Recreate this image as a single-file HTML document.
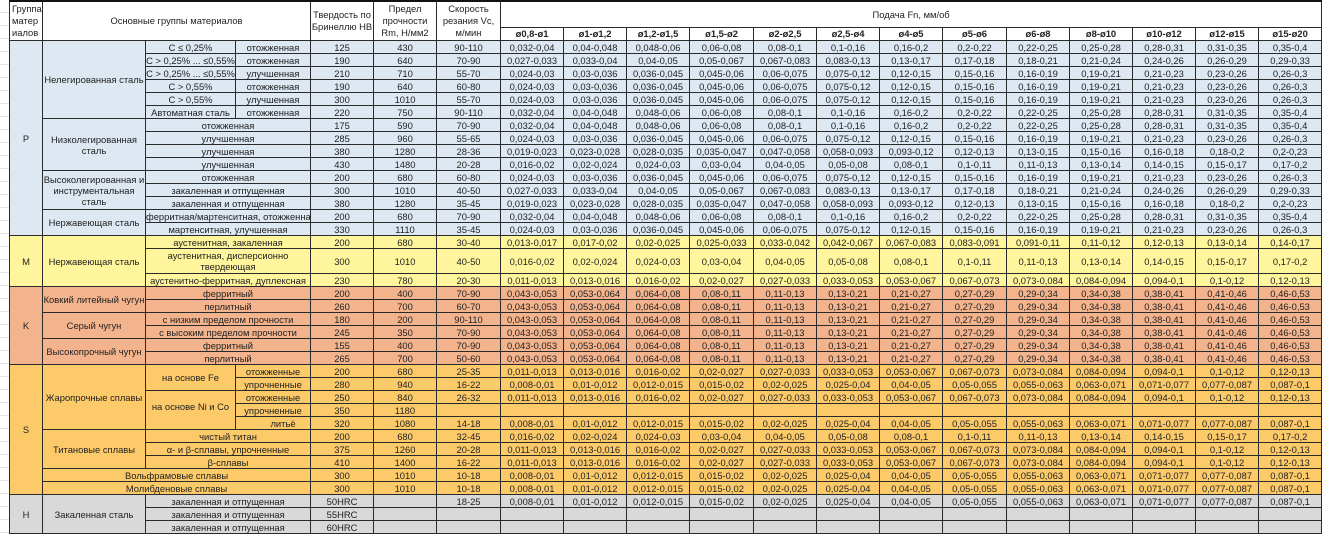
<!DOCTYPE html>
<html><head><meta charset="utf-8">
<style>
html,body{margin:0;padding:0;background:#fff;width:1334px;height:535px;overflow:hidden}
.g{position:absolute;left:0;top:0;width:9px;height:535px;background:repeating-linear-gradient(#fff 0 12px,#e4e4e4 12px 13px)}
table{position:absolute;left:9px;top:0;width:1312px;border-collapse:collapse;table-layout:fixed;font-family:"Liberation Sans",Arial,sans-serif;font-size:9.4px;color:#222}
td{border:1px solid #2a2a2a;padding:0;text-align:center;vertical-align:middle;line-height:11px;height:12px;overflow:hidden;white-space:nowrap}
tr.h td{background:#fff;line-height:12px}
tr.top td{border-top:2px solid #111}
.w{white-space:normal}
.p td{background:#dde8f3}
.m td{background:#fff59c}
.k td{background:#f3b38c}
.s td{background:#fdca6a}
.x td{background:#d9d9d9}
.b{font-weight:bold}
</style></head><body>
<div class="g"></div>
<table>
<colgroup><col style="width:33px"><col style="width:103px"><col style="width:90px"><col style="width:75px"><col style="width:63px"><col style="width:63px"><col style="width:64px"><col style="width:63px"><col style="width:63px"><col style="width:63px"><col style="width:64px"><col style="width:63px"><col style="width:63px"><col style="width:63px"><col style="width:64px"><col style="width:63px"><col style="width:63px"><col style="width:63px"><col style="width:63px"><col style="width:63px"></colgroup>
<tr class="h top"><td rowspan="2" class="w" style="text-align:left;padding-left:2px">Группа матер иалов</td><td colspan="3" rowspan="2">Основные группы материалов</td><td rowspan="2" class="w">Твердость по Бринеллю HB</td><td rowspan="2" class="w">Предел прочности Rm, Н/мм2</td><td rowspan="2" class="w">Скорость резания Vc, м/мин</td><td colspan="13" style="height:25px">Подача Fn, мм/об</td></tr>
<tr class="h b"><td class="b" style="height:11px">ø0,8-ø1</td><td class="b">ø1-ø1,2</td><td class="b">ø1,2-ø1,5</td><td class="b">ø1,5-ø2</td><td class="b">ø2-ø2,5</td><td class="b">ø2,5-ø4</td><td class="b">ø4-ø5</td><td class="b">ø5-ø6</td><td class="b">ø6-ø8</td><td class="b">ø8-ø10</td><td class="b">ø10-ø12</td><td class="b">ø12-ø15</td><td class="b">ø15-ø20</td></tr>

<tr class="p"><td rowspan="15">P</td><td rowspan="6">Нелегированная сталь</td><td>C ≤ 0,25%</td><td>отожженная</td><td>125</td><td>430</td><td>90-110</td><td>0,032-0,04</td><td>0,04-0,048</td><td>0,048-0,06</td><td>0,06-0,08</td><td>0,08-0,1</td><td>0,1-0,16</td><td>0,16-0,2</td><td>0,2-0,22</td><td>0,22-0,25</td><td>0,25-0,28</td><td>0,28-0,31</td><td>0,31-0,35</td><td>0,35-0,4</td></tr>
<tr class="p"><td>C &gt; 0,25% ... ≤0,55%</td><td>отожженная</td><td>190</td><td>640</td><td>70-90</td><td>0,027-0,033</td><td>0,033-0,04</td><td>0,04-0,05</td><td>0,05-0,067</td><td>0,067-0,083</td><td>0,083-0,13</td><td>0,13-0,17</td><td>0,17-0,18</td><td>0,18-0,21</td><td>0,21-0,24</td><td>0,24-0,26</td><td>0,26-0,29</td><td>0,29-0,33</td></tr>
<tr class="p"><td>C &gt; 0,25% ... ≤0,55%</td><td>улучшенная</td><td>210</td><td>710</td><td>55-70</td><td>0,024-0,03</td><td>0,03-0,036</td><td>0,036-0,045</td><td>0,045-0,06</td><td>0,06-0,075</td><td>0,075-0,12</td><td>0,12-0,15</td><td>0,15-0,16</td><td>0,16-0,19</td><td>0,19-0,21</td><td>0,21-0,23</td><td>0,23-0,26</td><td>0,26-0,3</td></tr>
<tr class="p"><td>C &gt; 0,55%</td><td>отожженная</td><td>190</td><td>640</td><td>60-80</td><td>0,024-0,03</td><td>0,03-0,036</td><td>0,036-0,045</td><td>0,045-0,06</td><td>0,06-0,075</td><td>0,075-0,12</td><td>0,12-0,15</td><td>0,15-0,16</td><td>0,16-0,19</td><td>0,19-0,21</td><td>0,21-0,23</td><td>0,23-0,26</td><td>0,26-0,3</td></tr>
<tr class="p"><td>C &gt; 0,55%</td><td>улучшенная</td><td>300</td><td>1010</td><td>55-70</td><td>0,024-0,03</td><td>0,03-0,036</td><td>0,036-0,045</td><td>0,045-0,06</td><td>0,06-0,075</td><td>0,075-0,12</td><td>0,12-0,15</td><td>0,15-0,16</td><td>0,16-0,19</td><td>0,19-0,21</td><td>0,21-0,23</td><td>0,23-0,26</td><td>0,26-0,3</td></tr>
<tr class="p"><td>Автоматная сталь</td><td>отожженная</td><td>220</td><td>750</td><td>90-110</td><td>0,032-0,04</td><td>0,04-0,048</td><td>0,048-0,06</td><td>0,06-0,08</td><td>0,08-0,1</td><td>0,1-0,16</td><td>0,16-0,2</td><td>0,2-0,22</td><td>0,22-0,25</td><td>0,25-0,28</td><td>0,28-0,31</td><td>0,31-0,35</td><td>0,35-0,4</td></tr>
<tr class="p"><td rowspan="4" class="w">Низколегированная сталь</td><td colspan="2">отожженная</td><td>175</td><td>590</td><td>70-90</td><td>0,032-0,04</td><td>0,04-0,048</td><td>0,048-0,06</td><td>0,06-0,08</td><td>0,08-0,1</td><td>0,1-0,16</td><td>0,16-0,2</td><td>0,2-0,22</td><td>0,22-0,25</td><td>0,25-0,28</td><td>0,28-0,31</td><td>0,31-0,35</td><td>0,35-0,4</td></tr>
<tr class="p"><td colspan="2">улучшенная</td><td>285</td><td>960</td><td>55-65</td><td>0,024-0,03</td><td>0,03-0,036</td><td>0,036-0,045</td><td>0,045-0,06</td><td>0,06-0,075</td><td>0,075-0,12</td><td>0,12-0,15</td><td>0,15-0,16</td><td>0,16-0,19</td><td>0,19-0,21</td><td>0,21-0,23</td><td>0,23-0,26</td><td>0,26-0,3</td></tr>
<tr class="p"><td colspan="2">улучшенная</td><td>380</td><td>1280</td><td>28-36</td><td>0,019-0,023</td><td>0,023-0,028</td><td>0,028-0,035</td><td>0,035-0,047</td><td>0,047-0,058</td><td>0,058-0,093</td><td>0,093-0,12</td><td>0,12-0,13</td><td>0,13-0,15</td><td>0,15-0,16</td><td>0,16-0,18</td><td>0,18-0,2</td><td>0,2-0,23</td></tr>
<tr class="p"><td colspan="2">улучшенная</td><td>430</td><td>1480</td><td>20-28</td><td>0,016-0,02</td><td>0,02-0,024</td><td>0,024-0,03</td><td>0,03-0,04</td><td>0,04-0,05</td><td>0,05-0,08</td><td>0,08-0,1</td><td>0,1-0,11</td><td>0,11-0,13</td><td>0,13-0,14</td><td>0,14-0,15</td><td>0,15-0,17</td><td>0,17-0,2</td></tr>
<tr class="p"><td rowspan="3" class="w">Высоколегированная и инструментальная сталь</td><td colspan="2">отожженная</td><td>200</td><td>680</td><td>60-80</td><td>0,024-0,03</td><td>0,03-0,036</td><td>0,036-0,045</td><td>0,045-0,06</td><td>0,06-0,075</td><td>0,075-0,12</td><td>0,12-0,15</td><td>0,15-0,16</td><td>0,16-0,19</td><td>0,19-0,21</td><td>0,21-0,23</td><td>0,23-0,26</td><td>0,26-0,3</td></tr>
<tr class="p"><td colspan="2">закаленная и отпущенная</td><td>300</td><td>1010</td><td>40-50</td><td>0,027-0,033</td><td>0,033-0,04</td><td>0,04-0,05</td><td>0,05-0,067</td><td>0,067-0,083</td><td>0,083-0,13</td><td>0,13-0,17</td><td>0,17-0,18</td><td>0,18-0,21</td><td>0,21-0,24</td><td>0,24-0,26</td><td>0,26-0,29</td><td>0,29-0,33</td></tr>
<tr class="p"><td colspan="2">закаленная и отпущенная</td><td>380</td><td>1280</td><td>35-45</td><td>0,019-0,023</td><td>0,023-0,028</td><td>0,028-0,035</td><td>0,035-0,047</td><td>0,047-0,058</td><td>0,058-0,093</td><td>0,093-0,12</td><td>0,12-0,13</td><td>0,13-0,15</td><td>0,15-0,16</td><td>0,16-0,18</td><td>0,18-0,2</td><td>0,2-0,23</td></tr>
<tr class="p"><td rowspan="2">Нержавеющая сталь</td><td colspan="2">ферритная/мартенситная, отожженная</td><td>200</td><td>680</td><td>70-90</td><td>0,032-0,04</td><td>0,04-0,048</td><td>0,048-0,06</td><td>0,06-0,08</td><td>0,08-0,1</td><td>0,1-0,16</td><td>0,16-0,2</td><td>0,2-0,22</td><td>0,22-0,25</td><td>0,25-0,28</td><td>0,28-0,31</td><td>0,31-0,35</td><td>0,35-0,4</td></tr>
<tr class="p"><td colspan="2">мартенситная, улучшенная</td><td>330</td><td>1110</td><td>35-45</td><td>0,024-0,03</td><td>0,03-0,036</td><td>0,036-0,045</td><td>0,045-0,06</td><td>0,06-0,075</td><td>0,075-0,12</td><td>0,12-0,15</td><td>0,15-0,16</td><td>0,16-0,19</td><td>0,19-0,21</td><td>0,21-0,23</td><td>0,23-0,26</td><td>0,26-0,3</td></tr>

<tr class="m"><td rowspan="3">M</td><td rowspan="3">Нержавеющая сталь</td><td colspan="2">аустенитная, закаленная</td><td>200</td><td>680</td><td>30-40</td><td>0,013-0,017</td><td>0,017-0,02</td><td>0,02-0,025</td><td>0,025-0,033</td><td>0,033-0,042</td><td>0,042-0,067</td><td>0,067-0,083</td><td>0,083-0,091</td><td>0,091-0,11</td><td>0,11-0,12</td><td>0,12-0,13</td><td>0,13-0,14</td><td>0,14-0,17</td></tr>
<tr class="m"><td colspan="2" class="w" style="height:24px">аустенитная, дисперсионно твердеющая</td><td>300</td><td>1010</td><td>40-50</td><td>0,016-0,02</td><td>0,02-0,024</td><td>0,024-0,03</td><td>0,03-0,04</td><td>0,04-0,05</td><td>0,05-0,08</td><td>0,08-0,1</td><td>0,1-0,11</td><td>0,11-0,13</td><td>0,13-0,14</td><td>0,14-0,15</td><td>0,15-0,17</td><td>0,17-0,2</td></tr>
<tr class="m"><td colspan="2">аустенитно-ферритная, дуплексная</td><td>230</td><td>780</td><td>20-30</td><td>0,011-0,013</td><td>0,013-0,016</td><td>0,016-0,02</td><td>0,02-0,027</td><td>0,027-0,033</td><td>0,033-0,053</td><td>0,053-0,067</td><td>0,067-0,073</td><td>0,073-0,084</td><td>0,084-0,094</td><td>0,094-0,1</td><td>0,1-0,12</td><td>0,12-0,13</td></tr>

<tr class="k"><td rowspan="6">K</td><td rowspan="2">Ковкий литейный чугун</td><td colspan="2">ферритный</td><td>200</td><td>400</td><td>70-90</td><td>0,043-0,053</td><td>0,053-0,064</td><td>0,064-0,08</td><td>0,08-0,11</td><td>0,11-0,13</td><td>0,13-0,21</td><td>0,21-0,27</td><td>0,27-0,29</td><td>0,29-0,34</td><td>0,34-0,38</td><td>0,38-0,41</td><td>0,41-0,46</td><td>0,46-0,53</td></tr>
<tr class="k"><td colspan="2">перлитный</td><td>260</td><td>700</td><td>60-70</td><td>0,043-0,053</td><td>0,053-0,064</td><td>0,064-0,08</td><td>0,08-0,11</td><td>0,11-0,13</td><td>0,13-0,21</td><td>0,21-0,27</td><td>0,27-0,29</td><td>0,29-0,34</td><td>0,34-0,38</td><td>0,38-0,41</td><td>0,41-0,46</td><td>0,46-0,53</td></tr>
<tr class="k"><td rowspan="2">Серый чугун</td><td colspan="2">с низким пределом прочности</td><td>180</td><td>200</td><td>90-110</td><td>0,043-0,053</td><td>0,053-0,064</td><td>0,064-0,08</td><td>0,08-0,11</td><td>0,11-0,13</td><td>0,13-0,21</td><td>0,21-0,27</td><td>0,27-0,29</td><td>0,29-0,34</td><td>0,34-0,38</td><td>0,38-0,41</td><td>0,41-0,46</td><td>0,46-0,53</td></tr>
<tr class="k"><td colspan="2">с высоким пределом прочности</td><td>245</td><td>350</td><td>70-90</td><td>0,043-0,053</td><td>0,053-0,064</td><td>0,064-0,08</td><td>0,08-0,11</td><td>0,11-0,13</td><td>0,13-0,21</td><td>0,21-0,27</td><td>0,27-0,29</td><td>0,29-0,34</td><td>0,34-0,38</td><td>0,38-0,41</td><td>0,41-0,46</td><td>0,46-0,53</td></tr>
<tr class="k"><td rowspan="2">Высокопрочный чугун</td><td colspan="2">ферритный</td><td>155</td><td>400</td><td>70-90</td><td>0,043-0,053</td><td>0,053-0,064</td><td>0,064-0,08</td><td>0,08-0,11</td><td>0,11-0,13</td><td>0,13-0,21</td><td>0,21-0,27</td><td>0,27-0,29</td><td>0,29-0,34</td><td>0,34-0,38</td><td>0,38-0,41</td><td>0,41-0,46</td><td>0,46-0,53</td></tr>
<tr class="k"><td colspan="2">перлитный</td><td>265</td><td>700</td><td>50-60</td><td>0,043-0,053</td><td>0,053-0,064</td><td>0,064-0,08</td><td>0,08-0,11</td><td>0,11-0,13</td><td>0,13-0,21</td><td>0,21-0,27</td><td>0,27-0,29</td><td>0,29-0,34</td><td>0,34-0,38</td><td>0,38-0,41</td><td>0,41-0,46</td><td>0,46-0,53</td></tr>

<tr class="s"><td rowspan="10">S</td><td rowspan="5">Жаропрочные сплавы</td><td rowspan="2">на основе Fe</td><td>отожженные</td><td>200</td><td>680</td><td>25-35</td><td>0,011-0,013</td><td>0,013-0,016</td><td>0,016-0,02</td><td>0,02-0,027</td><td>0,027-0,033</td><td>0,033-0,053</td><td>0,053-0,067</td><td>0,067-0,073</td><td>0,073-0,084</td><td>0,084-0,094</td><td>0,094-0,1</td><td>0,1-0,12</td><td>0,12-0,13</td></tr>
<tr class="s"><td>упрочненные</td><td>280</td><td>940</td><td>16-22</td><td>0,008-0,01</td><td>0,01-0,012</td><td>0,012-0,015</td><td>0,015-0,02</td><td>0,02-0,025</td><td>0,025-0,04</td><td>0,04-0,05</td><td>0,05-0,055</td><td>0,055-0,063</td><td>0,063-0,071</td><td>0,071-0,077</td><td>0,077-0,087</td><td>0,087-0,1</td></tr>
<tr class="s"><td rowspan="3" style="vertical-align:top;padding-top:10px">на основе Ni и Co</td><td>отожженные</td><td>250</td><td>840</td><td>26-32</td><td>0,011-0,013</td><td>0,013-0,016</td><td>0,016-0,02</td><td>0,02-0,027</td><td>0,027-0,033</td><td>0,033-0,053</td><td>0,053-0,067</td><td>0,067-0,073</td><td>0,073-0,084</td><td>0,084-0,094</td><td>0,094-0,1</td><td>0,1-0,12</td><td>0,12-0,13</td></tr>
<tr class="s"><td>упрочненные</td><td>350</td><td>1180</td><td></td><td></td><td></td><td></td><td></td><td></td><td></td><td></td><td></td><td></td><td></td><td></td><td></td><td></td></tr>
<tr class="s"><td style="padding-left:20px">литьё</td><td>320</td><td>1080</td><td>14-18</td><td>0,008-0,01</td><td>0,01-0,012</td><td>0,012-0,015</td><td>0,015-0,02</td><td>0,02-0,025</td><td>0,025-0,04</td><td>0,04-0,05</td><td>0,05-0,055</td><td>0,055-0,063</td><td>0,063-0,071</td><td>0,071-0,077</td><td>0,077-0,087</td><td>0,087-0,1</td></tr>
<tr class="s"><td rowspan="3">Титановые сплавы</td><td colspan="2">чистый титан</td><td>200</td><td>680</td><td>32-45</td><td>0,016-0,02</td><td>0,02-0,024</td><td>0,024-0,03</td><td>0,03-0,04</td><td>0,04-0,05</td><td>0,05-0,08</td><td>0,08-0,1</td><td>0,1-0,11</td><td>0,11-0,13</td><td>0,13-0,14</td><td>0,14-0,15</td><td>0,15-0,17</td><td>0,17-0,2</td></tr>
<tr class="s"><td colspan="2">α- и β-сплавы, упрочненные</td><td>375</td><td>1260</td><td>20-28</td><td>0,011-0,013</td><td>0,013-0,016</td><td>0,016-0,02</td><td>0,02-0,027</td><td>0,027-0,033</td><td>0,033-0,053</td><td>0,053-0,067</td><td>0,067-0,073</td><td>0,073-0,084</td><td>0,084-0,094</td><td>0,094-0,1</td><td>0,1-0,12</td><td>0,12-0,13</td></tr>
<tr class="s"><td colspan="2">β-сплавы</td><td>410</td><td>1400</td><td>16-22</td><td>0,011-0,013</td><td>0,013-0,016</td><td>0,016-0,02</td><td>0,02-0,027</td><td>0,027-0,033</td><td>0,033-0,053</td><td>0,053-0,067</td><td>0,067-0,073</td><td>0,073-0,084</td><td>0,084-0,094</td><td>0,094-0,1</td><td>0,1-0,12</td><td>0,12-0,13</td></tr>
<tr class="s"><td colspan="3">Вольфрамовые сплавы</td><td>300</td><td>1010</td><td>10-18</td><td>0,008-0,01</td><td>0,01-0,012</td><td>0,012-0,015</td><td>0,015-0,02</td><td>0,02-0,025</td><td>0,025-0,04</td><td>0,04-0,05</td><td>0,05-0,055</td><td>0,055-0,063</td><td>0,063-0,071</td><td>0,071-0,077</td><td>0,077-0,087</td><td>0,087-0,1</td></tr>
<tr class="s"><td colspan="3">Молибденовые сплавы</td><td>300</td><td>1010</td><td>10-18</td><td>0,008-0,01</td><td>0,01-0,012</td><td>0,012-0,015</td><td>0,015-0,02</td><td>0,02-0,025</td><td>0,025-0,04</td><td>0,04-0,05</td><td>0,05-0,055</td><td>0,055-0,063</td><td>0,063-0,071</td><td>0,071-0,077</td><td>0,077-0,087</td><td>0,087-0,1</td></tr>

<tr class="x"><td rowspan="3">H</td><td rowspan="3">Закаленная сталь</td><td colspan="2">закаленная и отпущенная</td><td>50HRC</td><td></td><td>18-25</td><td>0,008-0,01</td><td>0,01-0,012</td><td>0,012-0,015</td><td>0,015-0,02</td><td>0,02-0,025</td><td>0,025-0,04</td><td>0,04-0,05</td><td>0,05-0,055</td><td>0,055-0,063</td><td>0,063-0,071</td><td>0,071-0,077</td><td>0,077-0,087</td><td>0,087-0,1</td></tr>
<tr class="x"><td colspan="2">закаленная и отпущенная</td><td>55HRC</td><td></td><td></td><td></td><td></td><td></td><td></td><td></td><td></td><td></td><td></td><td></td><td></td><td></td><td></td><td></td></tr>
<tr class="x"><td colspan="2">закаленная и отпущенная</td><td>60HRC</td><td></td><td></td><td></td><td></td><td></td><td></td><td></td><td></td><td></td><td></td><td></td><td></td><td></td><td></td><td></td></tr>
</table>
</body></html>
